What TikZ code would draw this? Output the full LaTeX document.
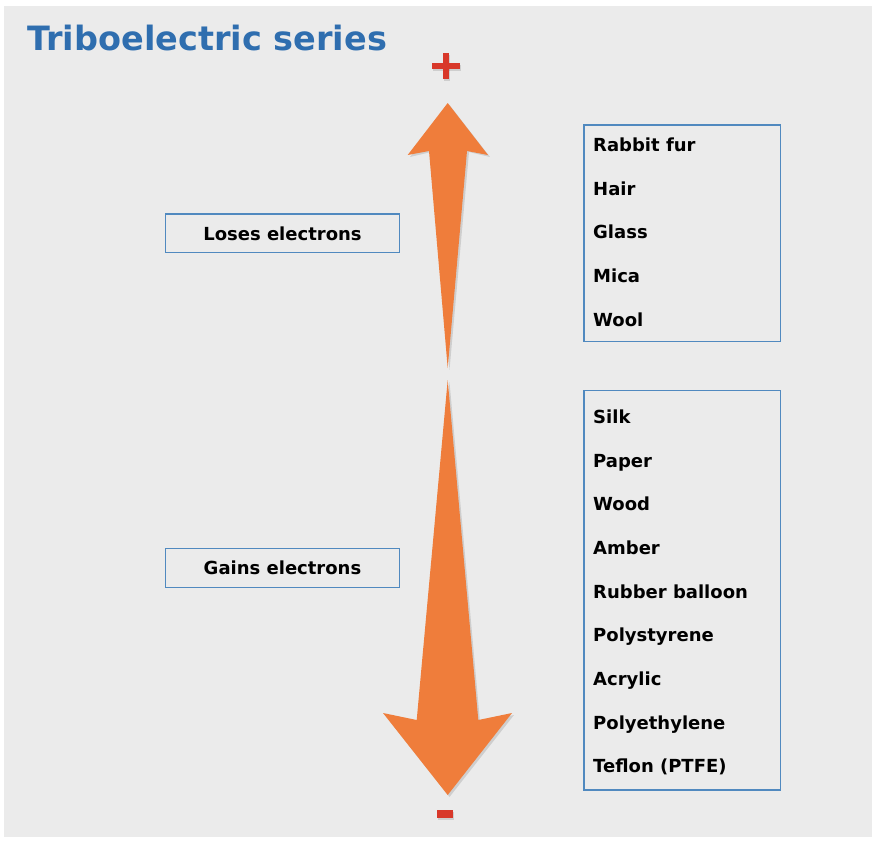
\documentclass[tikz,border=0pt]{standalone}
\usepackage{fontspec}
\setmainfont{DejaVu Sans}
\definecolor{bg}{HTML}{EBEBEB}
\definecolor{titleblue}{HTML}{2F6EAF}
\definecolor{boxblue}{HTML}{5089BF}
\definecolor{arroworange}{HTML}{EF7D3B}
\definecolor{signred}{HTML}{D8382A}
\tikzset{
  lbl/.style={font=\fontsize{18pt}{20pt}\selectfont\bfseries, text=black, inner sep=0pt},
  item/.style={font=\fontsize{18pt}{20pt}\selectfont\bfseries, text=black, inner sep=0pt, anchor=base west},
  framebox/.style={draw=boxblue, line width=1.2pt},
  bigarrow/.style={fill=arroworange},
  arrowshadow/.style={fill=black, opacity=0.12},
  sign/.style={fill=signred}
}
\begin{document}
\begin{tikzpicture}[x=1pt,y=-1pt]
\useasboundingbox (0,0) rectangle (872,844);
\fill[white] (0,0) rectangle (872,844);
\fill[bg] (4,6) rectangle (872,837);

% title
\node (title) [font=\fontsize{33.5pt}{36pt}\selectfont\bfseries, text=titleblue, anchor=base west, inner sep=0pt] at (27,50) {Triboelectric series};

% plus sign
\fill[black, opacity=0.12] (433,64.7) rectangle (461,71.3);
\fill[black, opacity=0.12] (443.7,54.7) rectangle (450.3,81.3);
\fill[sign] (432,62.7) rectangle (460,69.3);
\fill[sign] (442.7,52.7) rectangle (449.3,79.3);

% up arrow
\fill[arrowshadow] (449.5,105) -- (490,157) -- (469,152) -- (449.5,370) -- (431,152) -- (410,157) -- cycle;
\fill[bigarrow] (447.7,103) -- (488,155) -- (467,151) -- (447.7,368) -- (429,151) -- (407.7,155) -- cycle;

% down arrow
\fill[arrowshadow] (449.5,382) -- (480,722) -- (514,715) -- (449.5,797) -- (385,715) -- (419,722) -- cycle;
\fill[bigarrow] (447.7,380) -- (478.3,720) -- (512,713) -- (447.7,795) -- (383,713) -- (416.7,720) -- cycle;

% minus sign
\fill[black, opacity=0.12] (438,812) rectangle (454,820);
\fill[sign] (437,810) rectangle (453,818);

% left boxes
\draw[framebox] (165.7,214) rectangle (399.3,252.7);
\node (loses) [lbl, anchor=base] at (282.5,240) {Loses electrons};
\draw[framebox] (165.7,548.3) rectangle (399.3,587.3);
\node (gains) [lbl, anchor=base] at (282.5,574.3) {Gains electrons};

% right box 1
\draw[framebox] (584,125) rectangle (780.7,341.7);
\node (i1) [item] at (593,151.7) {Rabbit fur};
\node (i2) [item] at (593,195.3) {Hair};
\node (i3) [item] at (593,238.9) {Glass};
\node (i4) [item] at (593,282.5) {Mica};
\node (i5) [item] at (593,326.1) {Wool};

% right box 2
\draw[framebox] (584,390.7) rectangle (780.7,790);
\node (j1) [item] at (593,423.3) {Silk};
\node (j2) [item] at (593,467) {Paper};
\node (j3) [item] at (593,510.7) {Wood};
\node (j4) [item] at (593,554.3) {Amber};
\node (j5) [item] at (593,598) {Rubber balloon};
\node (j6) [item] at (593,641.7) {Polystyrene};
\node (j7) [item] at (593,685.3) {Acrylic};
\node (j8) [item] at (593,729) {Polyethylene};
\node (j9) [item] at (593,772.7) {Teflon (PTFE)};
\end{tikzpicture}
\end{document}
